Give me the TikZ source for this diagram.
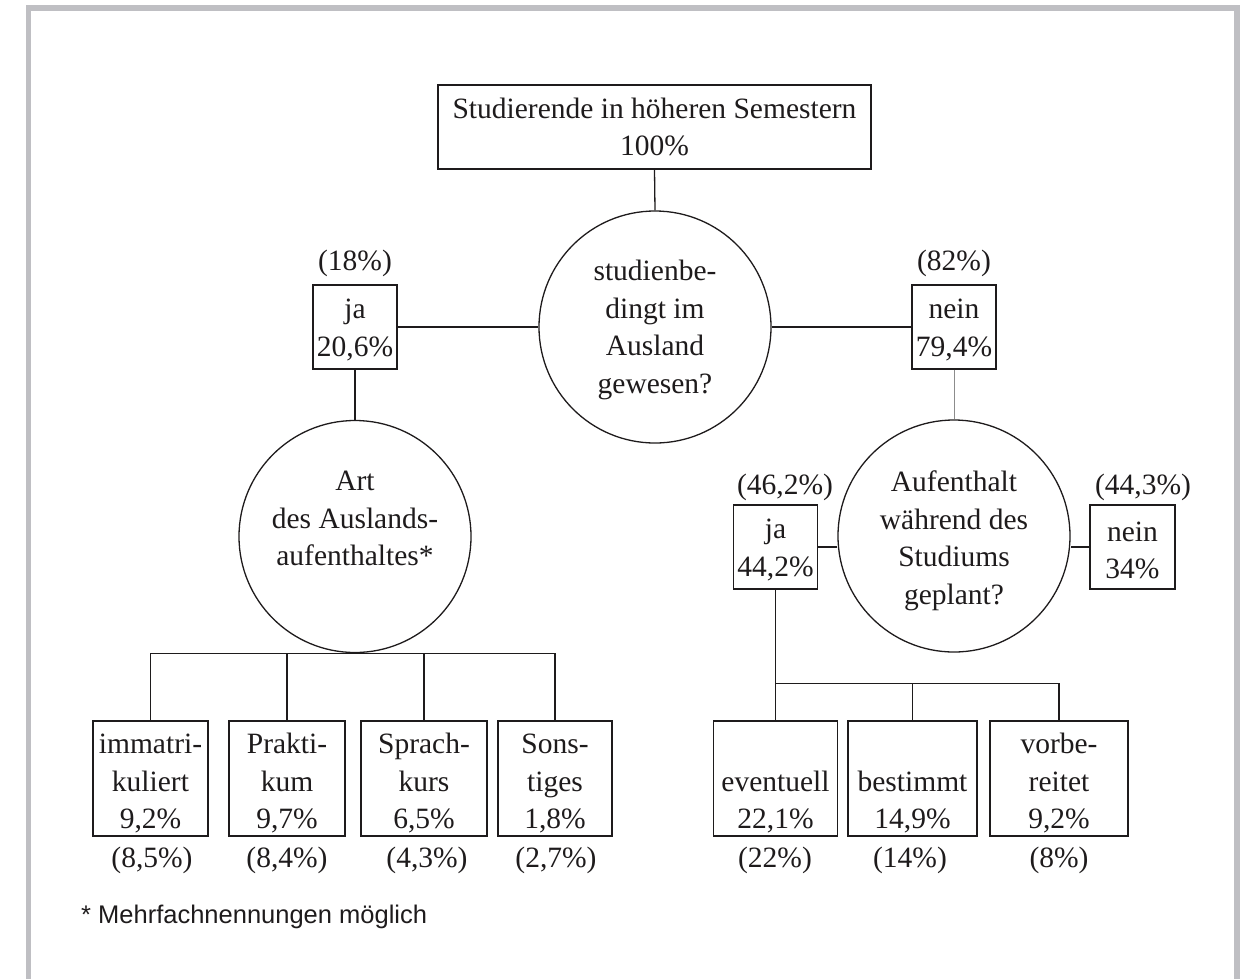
\documentclass[tikz,border=0pt]{standalone}
\usepackage{fontspec}
\setmainfont{Liberation Serif}
\newfontfamily\footfont{Liberation Sans}
\definecolor{ink}{HTML}{1E1B1C}
\definecolor{framegray}{HTML}{BFBFC3}
\newcommand\tallstrut{\rule{0pt}{30pt}}
\newcommand\midstrut{\rule{0pt}{26pt}}
\begin{document}
\begin{tikzpicture}[x=1pt,y=-1pt,
  every node/.style={text=ink, font=\fontsize{29.5}{37.5}\selectfont, inner sep=0pt, align=center},
  box/.style={draw=ink, line width=1.3pt, rectangle},
  ring/.style={draw=ink, line width=1.3pt, circle, minimum size=232pt},
  conn/.style={draw=ink, line width=1.3pt},
  lightconn/.style={draw=black!45, line width=1pt},
  pct/.style={}]
\useasboundingbox (0,0) rectangle (1253,978);
% frame
\draw[framegray, line width=5.5pt] (28.5,990) -- (28.5,8) -- (1237,8) -- (1237,990);

% top
\node[box, minimum width=433pt, minimum height=84pt] (top) at (654.5,127) {Studierende in höheren Semestern\\100\%};
\node[ring] (c1) at (655,327) {\midstrut studienbe-\\dingt im\\Ausland\\gewesen?};
\node[box, minimum width=84pt, minimum height=84pt] (ja1) at (355,327) {\midstrut ja\\20,6\%};
\node[box, minimum width=84pt, minimum height=84pt] (nein1) at (954,327) {\midstrut nein\\79,4\%};
\node[pct] (l18) at (355,263) {(18\%)};
\node[pct] (l82) at (954,263) {(82\%)};

% left branch
\node[ring] (c2) at (355,536.5) {\rule{0pt}{32pt}Art\\des Auslands-\\aufenthaltes*\\\strut};
\node[box, minimum width=115pt, minimum height=115pt] (b1) at (150.5,778.5) {\tallstrut immatri-\\kuliert\\9,2\%};
\node[box, minimum width=116pt, minimum height=115pt] (b2) at (287,778.5) {\tallstrut Prakti-\\kum\\9,7\%};
\node[box, minimum width=126pt, minimum height=115pt] (b3) at (424,778.5) {\tallstrut Sprach-\\kurs\\6,5\%};
\node[box, minimum width=114pt, minimum height=115pt] (b4) at (555,778.5) {\tallstrut Sons-\\tiges\\1,8\%};
\node (p1) at (152,860) {(8,5\%)};
\node (p2) at (287,860) {(8,4\%)};
\node (p3) at (427,860) {(4,3\%)};
\node (p4) at (556,860) {(2,7\%)};

% right branch
\node[ring] (c3) at (954,536) {\tallstrut Aufenthalt\\während des\\Studiums\\geplant?};
\node[box, minimum width=84pt, minimum height=84pt] (ja2) at (775.5,547) {\midstrut ja\\44,2\%};
\node[box, minimum width=85pt, minimum height=84pt] (nein2) at (1132.5,547) {\midstrut nein\\34\%};
\node (l462) at (785,487) {(46,2\%)};
\node (l443) at (1143,487) {(44,3\%)};
\node[box, minimum width=124pt, minimum height=115pt] (b5) at (775.5,778.5) {\tallstrut\\eventuell\\22,1\%};
\node[box, minimum width=129pt, minimum height=115pt] (b6) at (912.5,778.5) {\tallstrut\\bestimmt\\14,9\%};
\node[box, minimum width=138pt, minimum height=115pt] (b7) at (1059,778.5) {\tallstrut vorbe-\\reitet\\9,2\%};
\node (p5) at (775,860) {(22\%)};
\node (p6) at (910,860) {(14\%)};
\node (p7) at (1059,860) {(8\%)};

% footnote
\node[anchor=west, font=\footfont\fontsize{25.5}{30}\selectfont] (foot) at (81,917) {* Mehrfachnennungen möglich};

% connectors
\draw[conn] (top.south) -- (c1.north);
\draw[conn] (ja1.east) -- (c1.west);
\draw[conn] (c1.east) -- (nein1.west);
\draw[conn] (ja1.south) -- (c2.north);
\draw[lightconn] (nein1.south) -- (c3.north);
\draw[conn] (ja2.east) -- (ja2.east -| c3.west);
\draw[conn] (nein2.west) -- (nein2.west -| c3.east);

\coordinate (busL) at (c2.south);
\draw[conn] (b1.north) -- (b1.north |- busL) -- (b4.north |- busL) -- (b4.north);
\draw[conn] (b2.north) -- (b2.north |- busL);
\draw[conn] (b3.north) -- (b3.north |- busL);

\coordinate (busR) at (775.5,683.5);
\draw[conn] (ja2.south) -- (ja2.south |- busR) -- (b7.north |- busR) -- (b7.north);
\draw[conn] (b5.north) -- (b5.north |- busR);
\draw[conn] (b6.north) -- (b6.north |- busR);
\end{tikzpicture}
\end{document}
